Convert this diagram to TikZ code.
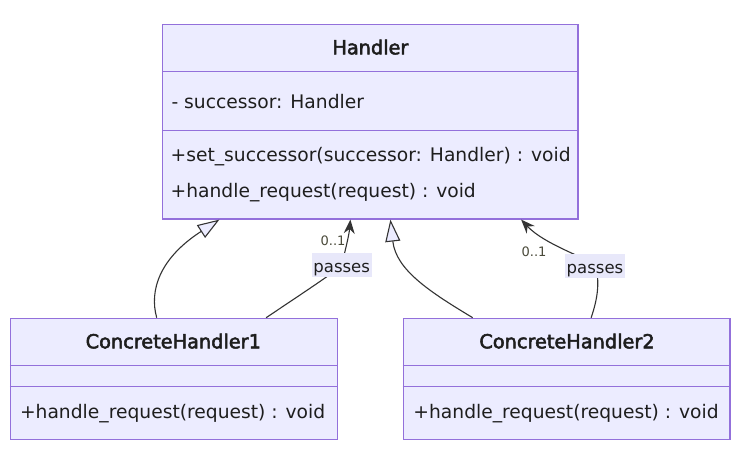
\documentclass[tikz,border=0pt]{standalone}
\usepackage{fontspec}
\setmainfont{DejaVu Sans}
\newfontfamily\titlefont{DejaVu Sans}[FakeBold=2.6]
\usetikzlibrary{arrows.meta}
\definecolor{clsfill}{HTML}{ECECFF}
\definecolor{clsline}{HTML}{9370DB}
\definecolor{edgecol}{HTML}{333333}
\definecolor{lblfill}{HTML}{E8E8FA}
\definecolor{txtcol}{HTML}{1E1E1E}
\definecolor{multcol}{HTML}{4A4A3A}
\begin{document}
\begin{tikzpicture}[x=1pt,y=-1pt,
  classbox/.style={draw=clsline, fill=clsfill, line width=1.2pt, inner sep=0pt, rectangle},
  divider/.style={draw=clsline, line width=1.2pt},
  member/.style={anchor=base west, inner sep=0pt, font=\fontsize{18.7}{22}\selectfont, text=txtcol},
  clstitle/.style={anchor=base, inner sep=0pt, font=\titlefont\fontsize{19.3}{22}\selectfont, text=txtcol},
  inherit/.style={draw=edgecol, line width=1.1pt, -{Triangle[fill=clsfill, length=22pt, width=15pt]}},
  assoc/.style={draw=edgecol, line width=1.1pt, -{Stealth[length=14pt, width=11pt]}},
  edgelabel/.style={fill=lblfill, inner sep=0pt, minimum width=60pt, minimum height=24pt, text height=15.4pt, text depth=0pt, font=\fontsize{16.5}{20}\selectfont, text=txtcol},
  mult/.style={anchor=base, inner sep=0pt, font=\fontsize{13}{15}\selectfont, text=multcol}
]
\useasboundingbox (0,0) rectangle (741,464);
\fill[white] (0,0) rectangle (741,464);

% class boxes
\node[classbox, minimum width=415.3pt, minimum height=194.5pt] (handler) at (370.35,121.75) {};
\node[classbox, minimum width=326.8pt, minimum height=121pt] (ch1) at (173.9,378.8) {};
\node[classbox, minimum width=326.7pt, minimum height=121pt] (ch2) at (566.65,378.8) {};

% dividers
\draw[divider] ([yshift=-47.2pt]handler.north west) -- ([yshift=-47.2pt]handler.north east);
\draw[divider] ([yshift=-106.5pt]handler.north west) -- ([yshift=-106.5pt]handler.north east);
\draw[divider] ([yshift=-47.7pt]ch1.north west) -- ([yshift=-47.7pt]ch1.north east);
\draw[divider] ([yshift=-69pt]ch1.north west) -- ([yshift=-69pt]ch1.north east);
\draw[divider] ([yshift=-47.7pt]ch2.north west) -- ([yshift=-47.7pt]ch2.north east);
\draw[divider] ([yshift=-69pt]ch2.north west) -- ([yshift=-69pt]ch2.north east);

% texts
\node[clstitle] (htitle) at (370.4,54.3) {Handler};
\node[member] (hattr) at (171.3,108.5) {- successor: Handler};
\node[member] (hm1) at (170.4,161) {+set\_successor(successor: Handler) : void};
\node[member] (hm2) at (170.4,197.8) {+handle\_request(request) : void};

\node[clstitle] (c1title) at (173.3,348.3) {ConcreteHandler1};
\node[member] (c1m) at (19.8,418.3) {+handle\_request(request) : void};
\node[clstitle] (c2title) at (567,348.3) {ConcreteHandler2};
\node[member] (c2m) at (413.2,418.3) {+handle\_request(request) : void};

% label positions
\coordinate (lp1) at (341.7,265);
\coordinate (lp2) at (595,265.5);

% edges
\draw[inherit] ([xshift=146.8pt]ch1.north west) .. controls (149,290) and (160,258) .. ([xshift=57.3pt]handler.south west);
\draw[assoc] ([xshift=256.2pt]ch1.north west) .. controls (315,285) and (339,269) .. (lp1) .. controls (344,255) and (349,236) .. ([xshift=188.3pt]handler.south west);
\draw[inherit] ([xshift=70pt]ch2.north west) .. controls (430,292) and (396,270) .. ([xshift=228.3pt]handler.south west);
\draw[assoc] ([xshift=188.4pt]ch2.north west) .. controls (598,298) and (600,280) .. (lp2) .. controls (588,258) and (545,245) .. ([xshift=359pt]handler.south west);

% edge labels
\node[edgelabel] (l1) at (lp1) {passes};
\node[edgelabel] (l2) at (lp2) {passes};
\node[mult] (m1) at (333,245.7) {0..1};
\node[mult] (m2) at (534,256.7) {0..1};
\end{tikzpicture}
\end{document}
